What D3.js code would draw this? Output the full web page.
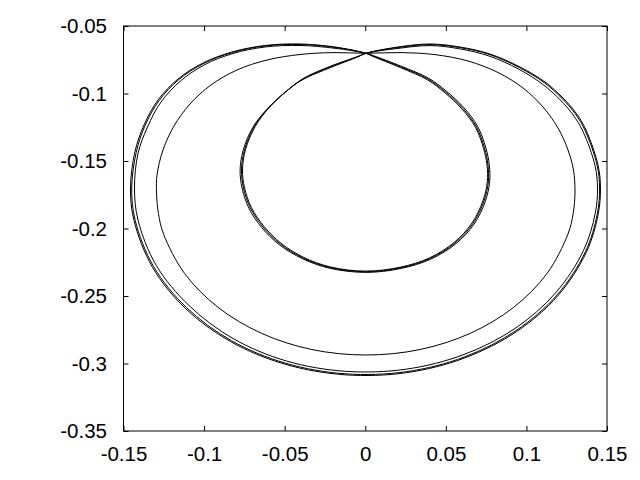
<!DOCTYPE html>
<html>
<head>
<meta charset="utf-8">
<script src="https://cdn.jsdelivr.net/npm/d3@7"></script>
<style>
  html, body { margin: 0; padding: 0; background: #fff; }
  svg { display: block; }
  text { font-family: "Liberation Sans", Arial, sans-serif; }
</style>
</head>
<body>
<svg id="chart" width="640" height="480"></svg>
<script>
// ---- data ----
const xTicks = [-0.15, -0.1, -0.05, 0, 0.05, 0.1, 0.15];
const yTicks = [-0.35, -0.3, -0.25, -0.2, -0.15, -0.1, -0.05];
const xDomain = [-0.15, 0.15];
const yDomain = [-0.35, -0.05];

// self-crossing point at the top
const crossing = [0.00047, -0.07022];

// big outer loops (start just left of the crossing, go round, end just right of it)
const outerA = [
  [-0.01877,-0.06652],[-0.04049,-0.06444],[-0.06220,-0.06556],[-0.08206,-0.07037],
  [-0.09943,-0.07852],[-0.11463,-0.09074],[-0.12673,-0.10630],[-0.13511,-0.12481],
  [-0.14100,-0.14444],[-0.14317,-0.17000],[-0.14100,-0.19370],
  [-0.12964,-0.22741],[-0.10936,-0.25704],[-0.08206,-0.28148],[-0.04886,-0.29815],
  [-0.01225,-0.30578],[0.02528,-0.30422],[0.06127,-0.29333],[0.09291,-0.27407],
  [0.11804,-0.24778],[0.13541,-0.21630],[0.14268,-0.18889],[0.14410,-0.17000],
  [0.14255,-0.15333],[0.13511,-0.12815],[0.12890,-0.11578],
  [0.12102,-0.10481],[0.11010,-0.09319],[0.09509,-0.08185],[0.07678,-0.07222],
  [0.05848,-0.06689],[0.04017,-0.06452],[0.02032,-0.06659]
];
const outerB = [
  [-0.01877,-0.06556],[-0.04049,-0.06333],[-0.06220,-0.06444],[-0.08268,-0.06926],
  [-0.10067,-0.07741],[-0.11618,-0.08926],[-0.12859,-0.10481],[-0.13728,-0.12333],
  [-0.14294,-0.14333],[-0.14565,-0.17000],[-0.14348,-0.19415],
  [-0.13200,-0.22874],[-0.11153,-0.25926],[-0.08354,-0.28378],[-0.04973,-0.30052],
  [-0.01256,-0.30837],[0.02553,-0.30681],[0.06183,-0.29585],[0.09391,-0.27637],
  [0.11959,-0.24970],[0.13722,-0.21748],[0.14454,-0.18933],[0.14596,-0.17000],
  [0.14441,-0.15296],[0.13697,-0.12704],[0.13076,-0.11444],
  [0.12270,-0.10333],[0.11153,-0.09148],[0.09602,-0.08037],[0.07740,-0.07074],
  [0.05879,-0.06556],[0.04017,-0.06333],[0.02032,-0.06556]
];
const outerC = [
  [-0.01877,-0.06585],[-0.04049,-0.06370],[-0.06220,-0.06481],[-0.08249,-0.06963],
  [-0.10030,-0.07778],[-0.11569,-0.08970],[-0.12797,-0.10533],[-0.13666,-0.12378],
  [-0.14212,-0.14370],[-0.14491,-0.17000],[-0.14274,-0.19400],
  [-0.13126,-0.22830],[-0.11091,-0.25852],[-0.08311,-0.28304],[-0.04948,-0.29978],
  [-0.01244,-0.30763],[0.02547,-0.30607],[0.06164,-0.29511],[0.09353,-0.27563],
  [0.11910,-0.24911],[0.13666,-0.21711],[0.14398,-0.18919],[0.14541,-0.17000],
  [0.14385,-0.15311],[0.13641,-0.12741],[0.13020,-0.11489],
  [0.12220,-0.10378],[0.11109,-0.09200],[0.09571,-0.08081],[0.07722,-0.07119],
  [0.05866,-0.06600],[0.04017,-0.06378],[0.02032,-0.06593]
];

// small inner loops (start just below-left of the crossing, end just right of it)
const innerA = [
  [-0.00450,-0.07267],[-0.02187,-0.08037],[-0.03862,-0.08926],[-0.04917,-0.09852],
  [-0.06034,-0.11111],[-0.06903,-0.12481],[-0.07492,-0.14185],[-0.07678,-0.15667],
  [-0.07554,-0.17000],[-0.07126,-0.18481],[-0.06344,-0.19889],[-0.05271,-0.21148],
  [-0.03862,-0.22185],[-0.02200,-0.22889],[0.00016,-0.23200],
  [0.02218,-0.22904],[0.04017,-0.22222],[0.05569,-0.21074],[0.06685,-0.19630],
  [0.07368,-0.17963],[0.07635,-0.16556],[0.07616,-0.15296],[0.07399,-0.14037],
  [0.06903,-0.12481],[0.06065,-0.11111],[0.04948,-0.09852],[0.03893,-0.08926],
  [0.02218,-0.08037],[0.00481,-0.07222]
];
const innerB = [
  [-0.00481,-0.07296],[-0.02218,-0.08111],[-0.03924,-0.09000],[-0.04986,-0.09926],
  [-0.06115,-0.11185],[-0.06990,-0.12537],[-0.07579,-0.14222],[-0.07765,-0.15667],
  [-0.07641,-0.17015],[-0.07207,-0.18526],[-0.06412,-0.19948],[-0.05327,-0.21207],
  [-0.03893,-0.22237],[-0.02218,-0.22941],[0.00016,-0.23252],
  [0.02237,-0.22956],[0.04055,-0.22274],[0.05625,-0.21126],[0.06753,-0.19674],
  [0.07449,-0.17993],[0.07716,-0.16570],[0.07697,-0.15296],[0.07480,-0.14015],
  [0.06977,-0.12444],[0.06127,-0.11056],[0.04998,-0.09793],[0.03930,-0.08867],
  [0.02243,-0.07985],[0.00493,-0.07193]
];
const innerC = [
  [-0.00425,-0.07244],[-0.02156,-0.07978],[-0.03812,-0.08867],[-0.04855,-0.09793],
  [-0.05966,-0.11048],[-0.06822,-0.12433],[-0.07430,-0.14156],[-0.07616,-0.15667],
  [-0.07492,-0.16985],[-0.07064,-0.18444],[-0.06288,-0.19837],[-0.05221,-0.21096],
  [-0.03831,-0.22133],[-0.02181,-0.22844],[0.00016,-0.23156],
  [0.02200,-0.22859],[0.03986,-0.22178],[0.05519,-0.21030],[0.06623,-0.19593],
  [0.07306,-0.17933],[0.07573,-0.16541],[0.07554,-0.15296],[0.07337,-0.14059],
  [0.06847,-0.12519],[0.06009,-0.11163],[0.04898,-0.09904],[0.03856,-0.08985],
  [0.02193,-0.08085],[0.00468,-0.07252]
];

// the intermediate loop passing flat through the crossing
const middleLoop = [
  [0.00047,-0.07022],[-0.02001,-0.06970],[-0.04049,-0.07111],[-0.06096,-0.07519],
  [-0.07957,-0.08259],[-0.09571,-0.09370],[-0.10874,-0.10778],[-0.11866,-0.12407],
  [-0.12549,-0.14185],[-0.12921,-0.16037],[-0.12952,-0.17296],[-0.12834,-0.18874],
  [-0.12512,-0.20422],[-0.11209,-0.23333],[-0.09143,-0.25830],[-0.06450,-0.27756],
  [-0.03323,-0.28963],[0.00047,-0.29370],[0.03403,-0.28963],[0.06530,-0.27756],
  [0.09217,-0.25830],[0.11277,-0.23333],[0.12574,-0.20422],[0.12902,-0.18874],
  [0.13014,-0.17296],[0.12921,-0.15667],[0.12580,-0.14185],[0.11959,-0.12556],
  [0.11029,-0.11000],[0.09788,-0.09593],[0.08237,-0.08444],[0.06375,-0.07593],
  [0.04266,-0.07111],[0.02156,-0.06970]
];

// ---- drawing ----
const svg = d3.select("#chart");
const plotLeft = 123.5, plotRight = 607, plotTop = 26, plotBottom = 431;

const x = d3.scaleLinear().domain(xDomain).range([plotLeft, plotRight]);
const y = d3.scaleLinear().domain(yDomain).range([plotBottom, plotTop]);

const fmt = d => String(Math.round(d * 100) / 100);
const tickLen = 5;

// orbits: outer loop + inner loop joined at the crossing
const orbits = [
  [crossing, ...outerA, crossing, ...innerA],
  [crossing, ...outerB, crossing, ...innerB],
  [crossing, ...outerC, crossing, ...innerC],
  middleLoop
];

const line = d3.line()
  .x(d => x(d[0]))
  .y(d => y(d[1]))
  .curve(d3.curveCatmullRomClosed.alpha(0.5));

svg.append("g")
  .selectAll("path")
  .data(orbits)
  .join("path")
  .attr("d", line)
  .attr("fill", "none")
  .attr("stroke", "#000")
  .attr("stroke-width", 1);

// axes (gnuplot style: inward ticks on all four sides, labels bottom/left)
const axB = svg.append("g").attr("transform", `translate(0,${plotBottom})`)
  .call(d3.axisBottom(x).tickValues(xTicks).tickFormat(fmt).tickSizeInner(-tickLen).tickSizeOuter(0).tickPadding(15));
const axT = svg.append("g").attr("transform", `translate(0,${plotTop})`)
  .call(d3.axisTop(x).tickValues(xTicks).tickFormat("").tickSizeInner(-tickLen).tickSizeOuter(0));
const axL = svg.append("g").attr("transform", `translate(${plotLeft},0)`)
  .call(d3.axisLeft(y).tickValues(yTicks).tickFormat(fmt).tickSizeInner(-tickLen).tickSizeOuter(0).tickPadding(16.5));
const axR = svg.append("g").attr("transform", `translate(${plotRight},0)`)
  .call(d3.axisRight(y).tickValues(yTicks).tickFormat("").tickSizeInner(-tickLen).tickSizeOuter(0));

[axB, axT, axL, axR].forEach(g => {
  g.select(".domain").remove();
  g.selectAll("line").attr("stroke", "#000");
  g.selectAll("text")
    .attr("fill", "#000")
    .style("font-size", "20.5px")
    .style("font-family", '"Liberation Sans", Arial, sans-serif');
});

// frame
svg.append("rect")
  .attr("x", plotLeft).attr("y", plotTop)
  .attr("width", plotRight - plotLeft).attr("height", plotBottom - plotTop)
  .attr("fill", "none").attr("stroke", "#000").attr("stroke-width", 1);
</script>
</body>
</html>
